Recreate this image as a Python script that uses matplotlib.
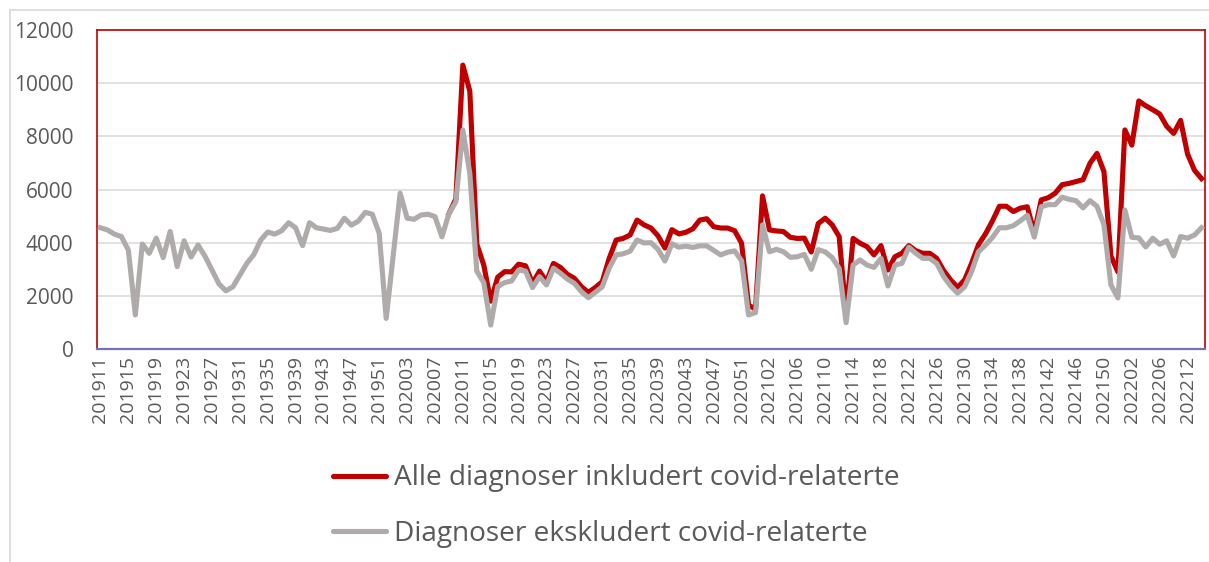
import matplotlib
matplotlib.use('Agg')
from matplotlib import pyplot as plt
from matplotlib.lines import Line2D

plt.rcParams['font.family'] = ['Open Sans', 'DejaVu Sans']

# ISO weeks shown on the category axis (2022 week 7-8 are not in the series)
week_spans = [(2019, list(range(11, 53))),
              (2020, list(range(1, 54))),
              (2021, list(range(1, 53))),
              (2022, [1, 2, 3, 4, 5, 6, 9, 10, 11, 12, 13, 14])]

# diagnoses excluding covid-related, one value per week
ekskludert = [
    4560, 4480, 4320, 4230, 3720, 1280, 3950, 3600, 4170, 3440,
    4420, 3100, 4070, 3460, 3910, 3490, 2970, 2450, 2190, 2340,
    2780, 3220, 3550, 4100, 4400, 4320, 4450, 4750, 4560, 3890,
    4750, 4560, 4510, 4460, 4540, 4920, 4660, 4810, 5140, 5070,
    4350, 1150, 3500, 5860, 4920, 4880, 5040, 5070, 4980, 4220,
    5090, 5540, 8240, 6600, 2930, 2500, 900, 2350, 2500, 2560,
    2970, 2930, 2310, 2720, 2410, 3040, 2850, 2630, 2470, 2160,
    1930, 2130, 2340, 3040, 3540, 3580, 3680, 4100, 3990, 4000,
    3750, 3310, 3960, 3830, 3870, 3820, 3880, 3880, 3710, 3540,
    3640, 3690, 3320, 1280, 1370, 4670, 3660, 3750, 3660, 3450,
    3470, 3560, 3000, 3740, 3650, 3440, 3030, 990, 3160, 3350,
    3160, 3070, 3410, 2370, 3160, 3220, 3830, 3600, 3410, 3410,
    3220, 2720, 2370, 2100, 2340, 2910, 3660, 3910, 4200, 4560,
    4560, 4640, 4820, 5030, 4210, 5350, 5430, 5430, 5710, 5630,
    5580, 5310, 5580, 5370, 4670, 2410, 1920, 5230, 4200, 4180,
    3840, 4170, 3940, 4070, 3500, 4230, 4170, 4290, 4560,
]

# all diagnoses incl. covid-related, from 202010 (before that equal to the series above)
alle_fra_202010 = [
    5650, 10680, 9700, 3950, 3160, 1800, 2700, 2910, 2900,
    3190, 3130, 2470, 2930, 2530, 3220, 3070, 2810, 2660, 2350,
    2130, 2310, 2530, 3410, 4100, 4160, 4290, 4850, 4670, 4550,
    4260, 3800, 4490, 4330, 4390, 4520, 4850, 4900, 4600, 4550,
    4550, 4450, 3980, 1650, 1500, 5760, 4480, 4440, 4420, 4200,
    4160, 4170, 3650, 4720, 4920, 4670, 4230, 1300, 4160, 3980,
    3850, 3540, 3890, 2970, 3470, 3600, 3890, 3700, 3600, 3600,
    3410, 2950, 2600, 2320, 2600, 3220, 3930, 4330, 4820, 5370,
    5370, 5170, 5300, 5350, 4380, 5610, 5690, 5860, 6180, 6230,
    6300, 6370, 6990, 7360, 6670, 3500, 2900, 8240, 7670, 9330,
    9150, 9000, 8840, 8380, 8110, 8600, 7330, 6720, 6410,
]

label_alle = 'Alle diagnoser inkludert covid-relaterte'
label_ekskl = 'Diagnoser ekskludert covid-relaterte'

weeks = ['%d%02d' % (year, w) for year, wl in week_spans for w in wl]
start = len(ekskludert) - len(alle_fra_202010)
alle = ekskludert[:start] + alle_fra_202010
x = list(range(len(weeks)))

red = '#c00000'
grey = '#afabab'
txt = '#595959'

fig = plt.figure(figsize=(12.09, 5.62), dpi=100)
ax = fig.add_axes([97 / 1209, 1 - 349 / 562, 1108 / 1209, 319 / 562])

# the red line only shows where it leaves the grey one
ax.plot(x[start - 1:], alle[start - 1:], color=red, lw=3.7,
        solid_joinstyle='round', zorder=3)
ax.plot(x, ekskludert, color=grey, lw=3.7, solid_joinstyle='round', zorder=4)

ax.set_xlim(-0.5, len(weeks) - 0.5)
ax.set_ylim(0, 12000)
ax.set_yticks(range(0, 12001, 2000))
ax.set_xticks(x[::4])
ax.set_xticklabels(weeks[::4], rotation=90)
ax.tick_params(axis='y', length=0, pad=17, labelsize=15, labelcolor=txt)
ax.tick_params(axis='x', length=0, pad=5, labelsize=14, labelcolor=txt)

ax.grid(axis='y', color='#d9d9d9', lw=1.1, zorder=0)
for side in ['left', 'top', 'right']:
    ax.spines[side].set_color(red)
    ax.spines[side].set_linewidth(1.2)
ax.spines['bottom'].set_color('#7570b3')
ax.spines['bottom'].set_linewidth(1.6)
ax.spines['bottom'].set_zorder(5)

# outer chart border (only top and left fall inside the picture)
fig.add_artist(Line2D([10 / 1209, 10 / 1209], [0, 1 - 10 / 562], color='#d9d9d9', lw=1.2))
fig.add_artist(Line2D([10 / 1209, 1], [1 - 10 / 562, 1 - 10 / 562], color='#d9d9d9', lw=1.2))

handles = [Line2D([], [], color=red, lw=3.7, solid_capstyle='round'),
           Line2D([], [], color=grey, lw=3.7, solid_capstyle='round')]
fig.legend(handles, [label_alle, label_ekskl], loc='center left',
           bbox_to_anchor=(333 / 1209, 1 - 506 / 562), frameon=False,
           fontsize=20.2, labelcolor=txt, handlelength=1.9, handletextpad=0.28,
           labelspacing=0.97, borderpad=0, borderaxespad=0)

plt.savefig('out.png', dpi=100)
